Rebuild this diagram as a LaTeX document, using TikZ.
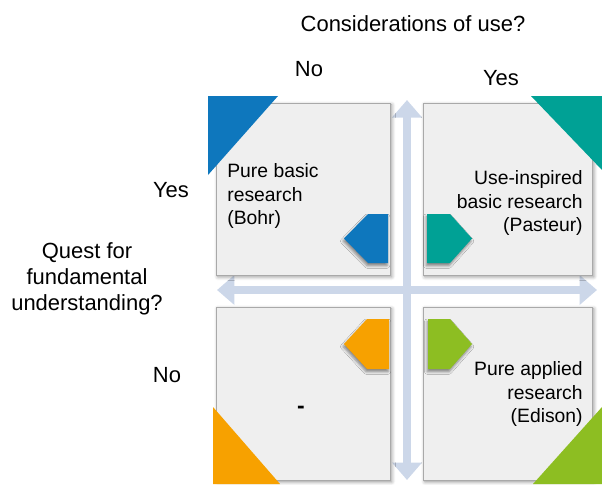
\documentclass[tikz,border=0pt]{standalone}
\usepackage{fontspec}
\setmainfont{Liberation Sans}
\usetikzlibrary{arrows.meta,shadows.blur}
\definecolor{boxgray}{HTML}{EFEFEF}
\definecolor{framegray}{HTML}{A9A9A9}
\definecolor{axisblue}{HTML}{CCD7E9}
\definecolor{bohrblue}{HTML}{0E77BD}
\definecolor{pasteurteal}{HTML}{00A195}
\definecolor{nonorange}{HTML}{F7A100}
\definecolor{edisongreen}{HTML}{8DBE22}
\tikzset{
  quad/.style={draw=framegray, fill=boxgray, inner sep=0pt,
    blur shadow={shadow xshift=1pt, shadow yshift=-1pt, shadow blur radius=2pt, shadow opacity=45}},
  axis/.style={line width=0.16cm, color=axisblue,
    {Triangle[width=0.58cm,length=0.35cm]}-{Triangle[width=0.58cm,length=0.35cm]}},
  tag/.style={blur shadow={shadow xshift=-0.5pt, shadow yshift=-1.5pt, shadow blur radius=1.5pt, shadow opacity=45}},
  boxtext/.style={font=\fontsize{11}{13.3}\selectfont, inner sep=0pt},
  outer/.style={font=\fontsize{12.5}{14.7}\selectfont, inner sep=0pt}
}
\begin{document}
\begin{tikzpicture}[x=0.02cm, y=-0.02cm]
  \useasboundingbox (0,0) rectangle (602,484);
  % AXES
  \coordinate (vtop) at (407,100);
  \coordinate (vbot) at (407,480);
  \coordinate (hleft) at (217,290);
  \coordinate (hright) at (597,290);
  \draw[axis] (vbot) -- (vtop);
  \draw[axis] (hleft) -- (hright);
  % QUADRANTS
  \node[quad, minimum width=3.48cm, minimum height=3.44cm] (bohrbox) at (303,189) {};
  \node[quad, minimum width=3.38cm, minimum height=3.44cm] (pasteurbox) at (507.5,189) {};
  \node[quad, minimum width=3.48cm, minimum height=3.46cm] (nonebox) at (303,393.5) {};
  \node[quad, minimum width=3.38cm, minimum height=3.46cm] (edisonbox) at (507.5,393.5) {};
  % CORNERS
  \fill[bohrblue] (208,96) -- (278,96) -- (208,175) -- cycle;
  \fill[pasteurteal] (531,96) -- (602,96) -- (602,170) -- cycle;
  \fill[nonorange] (213,407) -- (213,484) -- (280,484) -- cycle;
  \fill[edisongreen] (533,484) -- (602,484) -- (602,407) -- cycle;
  % TAGS
  \fill[tag, bohrblue] (388,214) -- (368,214) -- (344,238.5) -- (368,263) -- (388,263) -- cycle;
  \fill[tag, pasteurteal] (427,214) -- (450,214) -- (472,238.5) -- (450,263) -- (427,263) -- cycle;
  \fill[tag, nonorange] (389,319) -- (367,319) -- (344,344) -- (367,369) -- (389,369) -- cycle;
  \fill[tag, edisongreen] (428,319) -- (450,319) -- (472,344) -- (450,369) -- (428,369) -- cycle;
  % BOX TEXT
  \node[boxtext, anchor=west, align=left] (bohr) at (227,196) {Pure basic\\research\\(Bohr)};
  \node[boxtext, anchor=east, align=right] (pasteur) at (583,203) {Use-inspired\\basic research\\(Pasteur)};
  \node[boxtext, anchor=east, align=right] (edison) at (583,394) {Pure applied\\research\\(Edison)};
  \node[boxtext, font=\fontsize{13}{15}\bfseries] (none) at (301,410) {-};
  % AXIS LABELS
  \node[outer] (use) at (413,24) {Considerations of use?};
  \node[outer] (useno) at (309,69) {No};
  \node[outer] (useyes) at (501,78) {Yes};
  \node[outer, align=center] (quest) at (87,279) {Quest for\\fundamental\\understanding?};
  \node[outer] (questyes) at (171,190) {Yes};
  \node[outer] (questno) at (167,375) {No};
\end{tikzpicture}
\end{document}
